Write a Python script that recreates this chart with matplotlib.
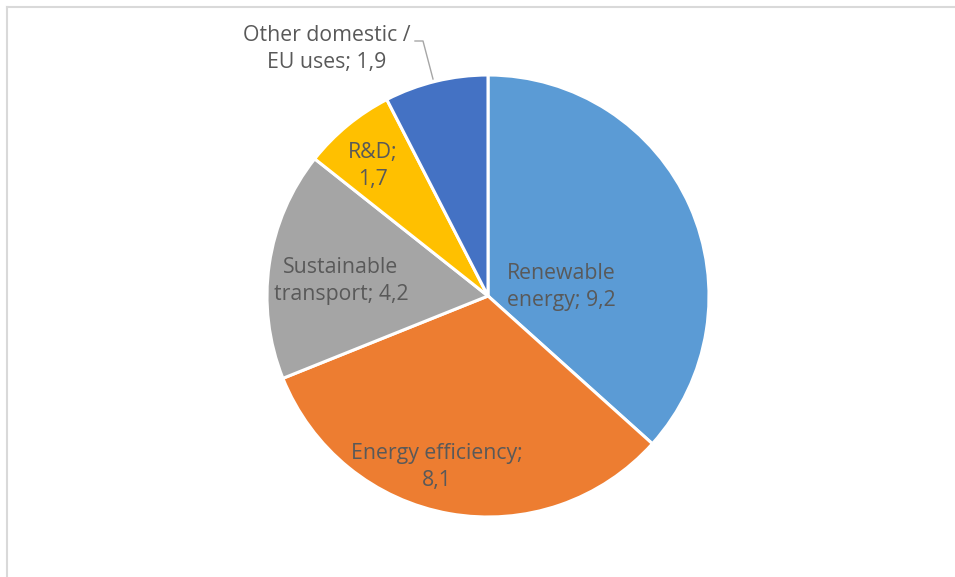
import matplotlib
matplotlib.use("Agg")
import matplotlib.pyplot as plt
from matplotlib.lines import Line2D

categories = ["Renewable energy", "Energy efficiency", "Sustainable transport", "R&D", "Other domestic / EU uses"]
values = [9.2, 8.1, 4.2, 1.7, 1.9]
label_texts = ["Renewable\nenergy; 9,2", "Energy efficiency;\n8,1", "Sustainable\ntransport; 4,2", "R&D;\n1,7", "Other domestic /\nEU uses; 1,9"]
colors = ["#5B9BD5", "#ED7D31", "#A5A5A5", "#FFC000", "#4472C4"]

W, H = 955, 577
fig = plt.figure(figsize=(W / 100, H / 100), dpi=100)
fig.patch.set_facecolor("white")

cx, cy, r = 488, 296, 221
ax = fig.add_axes([(cx - r) / W, (H - cy - r) / H, 2 * r / W, 2 * r / H])
ax.pie(values, colors=colors, startangle=90, counterclock=False, radius=1,
       wedgeprops=dict(edgecolor="white", linewidth=2.2))
ax.set_xlim(-1, 1)
ax.set_ylim(-1, 1)
ax.set_aspect("equal")
ax.axis("off")

def d(px, py):
    return (px - cx) / r, (cy - py) / r

label_px = [(561, 287), (437, 467), (341, 281), (373, 166), (327, 49)]
for (px, py), t in zip(label_px, label_texts):
    x, y = d(px, py)
    ax.text(x, y, t, ha="center", va="center", fontsize=15.3, color="#595959",
            family="Open Sans", linespacing=1.32, clip_on=False)

# leader line for the small slice
lx = [d(415, 41)[0], d(423, 41)[0], d(433, 79)[0]]
ly = [d(415, 41)[1], d(423, 41)[1], d(433, 79)[1]]
ax.add_line(Line2D(lx, ly, color="#A6A6A6", lw=1.0, clip_on=False))

# chart frame (partially visible)
fig.add_artist(Line2D([6.5 / W, 6.5 / W], [0, 1 - 7 / H], color="#D9D9D9", lw=1.5, transform=fig.transFigure))
fig.add_artist(Line2D([6.5 / W, 1], [1 - 7 / H, 1 - 7 / H], color="#D9D9D9", lw=1.5, transform=fig.transFigure))

fig.savefig("out.png", dpi=100)
